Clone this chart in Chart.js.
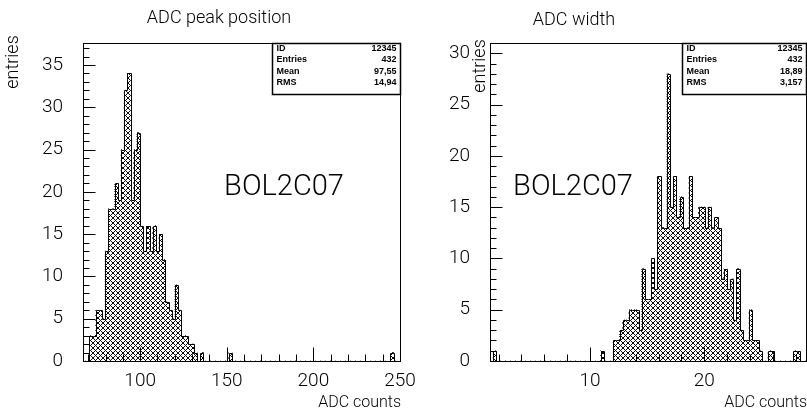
<!DOCTYPE html>
<html>
<head>
<meta charset="utf-8">
<script src="https://cdn.jsdelivr.net/npm/chart.js@4.4.1/dist/chart.umd.min.js"></script>
<style>
  html, body { margin: 0; padding: 0; background: #fff; }
  #wrap { position: relative; width: 807px; height: 415px; overflow: hidden; }
  .pane { position: absolute; top: 0; height: 415px; }
  #pane-peak { left: 0; width: 420px; }
  #pane-width { left: 420px; width: 387px; }
</style>
</head>
<body>
<div id="wrap">
  <div class="pane" id="pane-peak"><canvas id="chart-peak" width="420" height="415"></canvas></div>
  <div class="pane" id="pane-width"><canvas id="chart-width" width="387" height="415"></canvas></div>
</div>
<script>
// ADC peak position, 100 bins from peakLow to peakHigh
const peakLow = 67, peakHigh = 250;
const peakCounts = [
  0, 0, 3, 3, 6, 6, 5, 13, 18, 18,
  21, 19, 25, 32, 34, 19, 25, 27, 16, 13,
  16, 13, 16, 13, 15, 12, 7, 6, 5, 9,
  6, 3, 3, 2, 2, 1, 0, 1, 0, 0,
  0, 0, 0, 0, 0, 0, 1, 0, 0, 0,
  0, 0, 0, 0, 0, 0, 0, 0, 0, 0,
  0, 0, 0, 0, 0, 0, 0, 0, 0, 0,
  0, 0, 0, 0, 0, 0, 0, 0, 0, 0,
  0, 0, 0, 0, 0, 0, 0, 0, 0, 0,
  0, 0, 0, 0, 0, 0, 0, 1, 0, 0
];
const peakXTicks = [100, 150, 200, 250];
const peakYTicks = [0, 5, 10, 15, 20, 25, 30, 35];
const peakStats = [['ID', '12345'], ['Entries', '432'], ['Mean', '97,55'], ['RMS', '14,94']];

// ADC width, 100 bins from widthLow to widthHigh
const widthLow = 1.25, widthHigh = 28.9;
const widthCounts = [
  0, 1, 0, 0, 0, 0, 0, 0, 0, 0,
  0, 0, 0, 0, 0, 0, 0, 0, 0, 0,
  0, 0, 0, 0, 0, 0, 0, 0, 0, 0,
  0, 0, 0, 0, 0, 1, 0, 0, 0, 2,
  2, 3, 4, 4, 5, 5, 5, 3, 9, 6,
  6, 10, 7, 18, 13, 13, 28, 15, 18, 14,
  16, 13, 13, 18, 14, 14, 15, 15, 13, 15,
  13, 14, 13, 8, 9, 7, 8, 4, 9, 3,
  2, 2, 5, 2, 2, 1, 0, 0, 1, 1,
  0, 0, 0, 0, 0, 0, 1, 1, 0, 0
];
const widthXTicks = [10, 20];
const widthYTicks = [0, 5, 10, 15, 20, 25, 30];
const widthStats = [['ID', '12345'], ['Entries', '432'], ['Mean', '18,89'], ['RMS', '3,157']];

const LABEL_FONT = '300 19px Roboto, "DejaVu Sans", sans-serif';
const TITLE_FONT = '300 18px Roboto, "DejaVu Sans", sans-serif';
const XTITLE_FONT = '300 16px Roboto, "DejaVu Sans", sans-serif';
const BIG_FONT = '300 29px Roboto, "DejaVu Sans", sans-serif';
const STAT_FONT = 'bold 9px "Liberation Sans", Arial, sans-serif';

function crisp(v) { return Math.round(v) + 0.5; }

// cross-hatch fill like the PAW hatch style
function makeHatch(ctx) {
  const n = 5;
  const tile = document.createElement('canvas');
  tile.width = n; tile.height = n;
  const g = tile.getContext('2d');
  const img = g.createImageData(n, n);
  for (let y = 0; y < n; y++) {
    for (let x = 0; x < n; x++) {
      const on = (x - y + n) % n === 0 || (x + y) % n === 0;
      const p = (y * n + x) * 4;
      const v = on ? 10 : 255;
      img.data[p] = img.data[p + 1] = img.data[p + 2] = v;
      img.data[p + 3] = 255;
    }
  }
  g.putImageData(img, 0, 0);
  return ctx.createPattern(tile, 'repeat');
}

// step outline, frame, inward ticks, labels and the stats box
const paw = {
  id: 'paw',
  afterDatasetsDraw(chart, args, o) {
    const ctx = chart.ctx;
    const area = chart.chartArea;
    const xs = chart.scales.x, ys = chart.scales.y;
    const bars = chart.getDatasetMeta(0).data;

    ctx.save();
    ctx.strokeStyle = '#000';
    ctx.lineWidth = 1;

    // histogram outline
    ctx.beginPath();
    bars.forEach((b, i) => {
      const l = crisp(b.x - b.width / 2), r = crisp(b.x + b.width / 2);
      const top = crisp(b.y);
      if (i === 0) ctx.moveTo(l, crisp(b.base));
      ctx.lineTo(l, top);
      ctx.lineTo(r, top);
      if (i === bars.length - 1) ctx.lineTo(r, crisp(b.base));
    });
    ctx.stroke();

    // frame
    const L = crisp(area.left), R = crisp(area.right), T = crisp(area.top), B = crisp(area.bottom);
    ctx.strokeRect(L, T, R - L, B - T);

    // y ticks, minor every unit
    ctx.beginPath();
    for (let v = 0; v <= ys.max; v += 1) {
      const y = crisp(ys.getPixelForValue(v));
      const len = v % 5 === 0 ? 12 : 6;
      ctx.moveTo(L, y);
      ctx.lineTo(L + len, y);
    }
    // x ticks
    for (let v = Math.ceil(xs.min / o.xMinor) * o.xMinor; v <= xs.max; v += o.xMinor) {
      const x = crisp(xs.getPixelForValue(v));
      const len = v % o.xMajor === 0 ? 14 : 7;
      ctx.moveTo(x, B);
      ctx.lineTo(x, B - len);
    }
    ctx.stroke();

    // tick labels
    ctx.fillStyle = '#000';
    ctx.font = LABEL_FONT;
    ctx.textAlign = 'right';
    ctx.textBaseline = 'middle';
    o.yTicks.forEach(v => ctx.fillText(String(v), o.yLabelX, ys.getPixelForValue(v)));
    ctx.textAlign = 'center';
    o.xTicks.forEach(v => ctx.fillText(String(v), xs.getPixelForValue(v), 381));

    // axis titles
    ctx.font = XTITLE_FONT;
    ctx.textAlign = 'right';
    ctx.fillText(o.xTitle, o.xTitleX, 403);
    ctx.save();
    ctx.translate(o.yTitleX, o.yTitleY);
    ctx.rotate(-Math.PI / 2);
    ctx.textAlign = 'center';
    ctx.font = TITLE_FONT;
    ctx.fillText(o.yTitle, 0, 0);
    ctx.restore();

    // plot title
    ctx.font = TITLE_FONT;
    ctx.textAlign = 'center';
    ctx.fillText(o.title, o.titleX, o.titleY);

    // channel name
    ctx.font = BIG_FONT;
    ctx.fillText(o.tag, o.tagX, 188);

    // stats box
    const bx = crisp(o.boxLeft), by = T, bw = R - bx, bh = 51;
    ctx.fillStyle = '#fff';
    ctx.fillRect(bx, by, bw, bh);
    ctx.lineWidth = 1.5;
    ctx.strokeRect(bx, by, bw, bh);
    ctx.fillStyle = '#000';
    ctx.font = STAT_FONT;
    o.stats.forEach((row, i) => {
      const y = 48.5 + i * 11.5;
      ctx.textAlign = 'left';
      ctx.fillText(row[0], bx + 4, y);
      ctx.textAlign = 'right';
      ctx.fillText(row[1], R - 4, y);
    });
    ctx.restore();
  }
};

function histChart(canvasId, cfg) {
  const canvas = document.getElementById(canvasId);
  const n = cfg.counts.length;
  const binW = (cfg.high - cfg.low) / n;
  const points = cfg.counts.map((c, i) => ({ x: cfg.low + binW * (i + 0.5), y: c }));
  return new Chart(canvas, {
    type: 'bar',
    data: {
      datasets: [{
        data: points,
        backgroundColor: makeHatch(canvas.getContext('2d')),
        borderWidth: 0,
        categoryPercentage: 1,
        barPercentage: 1
      }]
    },
    options: {
      responsive: false,
      animation: false,
      devicePixelRatio: 1,
      layout: { padding: cfg.padding },
      plugins: {
        legend: { display: false },
        tooltip: { enabled: false },
        paw: cfg.paw
      },
      scales: {
        x: { type: 'linear', min: cfg.low, max: cfg.high, offset: false, display: false },
        y: { min: 0, max: cfg.yMax, display: false }
      }
    },
    plugins: [paw]
  });
}

histChart('chart-peak', {
  counts: peakCounts, low: peakLow, high: peakHigh, yMax: 37.6,
  padding: { left: 83, right: 20, top: 43, bottom: 54 },
  paw: {
    xMinor: 10, xMajor: 50, xTicks: peakXTicks, yTicks: peakYTicks, yLabelX: 63,
    xTitle: 'ADC counts', xTitleX: 401, yTitle: 'entries', yTitleX: 13, yTitleY: 62,
    title: 'ADC peak position', titleX: 219, titleY: 18,
    tag: 'BOL2C07', tagX: 284, boxLeft: 272, stats: peakStats
  }
});

histChart('chart-width', {
  counts: widthCounts, low: widthLow, high: widthHigh, yMax: 31,
  padding: { left: 70, right: 1, top: 43, bottom: 54 },
  paw: {
    xMinor: 2, xMajor: 10, xTicks: widthXTicks, yTicks: widthYTicks, yLabelX: 50,
    xTitle: 'ADC counts', xTitleX: 387, yTitle: 'entries', yTitleX: 60, yTitleY: 66,
    title: 'ADC width', titleX: 154, titleY: 20,
    tag: 'BOL2C07', tagX: 153, boxLeft: 262, stats: widthStats
  }
});
</script>
</body>
</html>
